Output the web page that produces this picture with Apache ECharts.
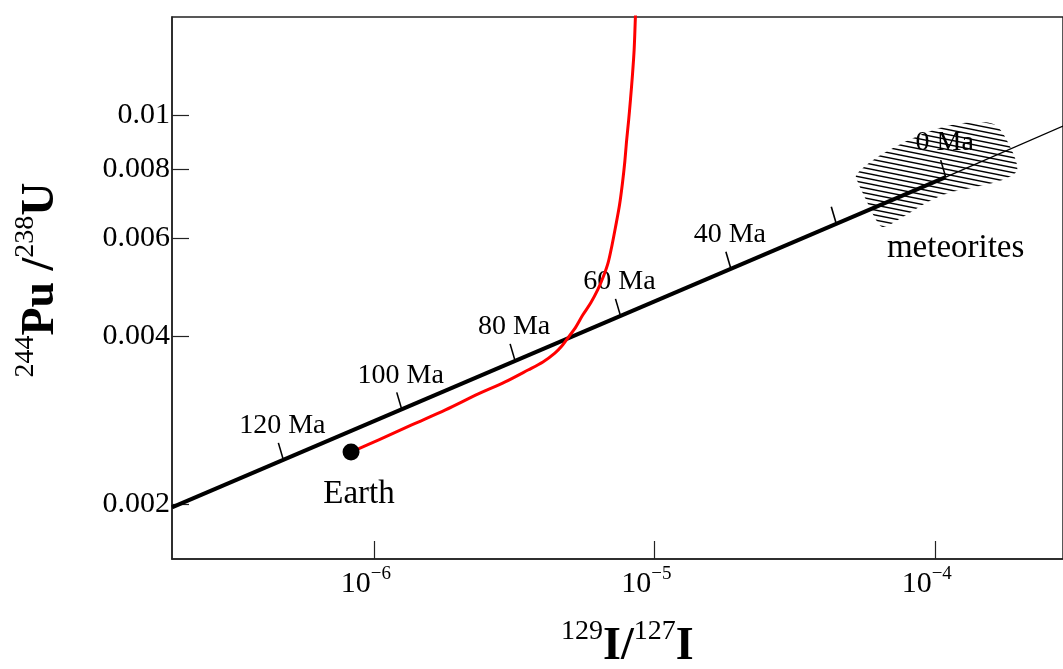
<!DOCTYPE html>
<html><head><meta charset="utf-8">
<script src="https://cdn.jsdelivr.net/npm/echarts@6/dist/echarts.min.js"></script>
<style>html,body{margin:0;padding:0;background:#fff;}#c{width:1063px;height:669px;}</style>
</head><body><div id="c"></div>
<script>
const FONT = '"Liberation Serif", "Times New Roman", serif';

// Black line: thick part up to 0 Ma, thin continuation beyond
const lineThickX = [1.905e-7, 1.094e-4];
const lineThickY = [1.973e-3, 7.735e-3];
const lineThinX = [1.094e-4, 2.866e-4];
const lineThinY = [7.735e-3, 9.554e-3];

// Red curve starting from Earth
const redX = [8.29e-7, 1.041e-6, 1.364e-6, 1.800e-6, 2.357e-6, 2.938e-6, 3.545e-6, 4.007e-6,
  4.419e-6, 4.680e-6, 4.915e-6, 5.246e-6, 5.556e-6, 5.929e-6, 6.280e-6, 6.593e-6, 6.840e-6,
  7.068e-6, 7.272e-6, 7.514e-6, 7.699e-6, 7.846e-6, 7.968e-6, 8.100e-6, 8.219e-6, 8.356e-6,
  8.472e-6, 8.562e-6, 8.606e-6];
const redY = [2.481e-3, 2.608e-3, 2.775e-3, 2.953e-3, 3.155e-3, 3.316e-3, 3.483e-3, 3.601e-3,
  3.736e-3, 3.847e-3, 3.976e-3, 4.160e-3, 4.373e-3, 4.595e-3, 4.850e-3, 5.138e-3, 5.423e-3,
  5.842e-3, 6.292e-3, 6.891e-3, 7.549e-3, 8.234e-3, 9.018e-3, 9.795e-3, 1.064e-2, 1.180e-2,
  1.308e-2, 1.500e-2, 1.576e-2];

// Earth point
const earthX = [8.29e-7];
const earthY = [2.481e-3];
const earthLabel = ['Earth'];

// Age ticks along the black line
const ageX = [4.756e-7, 1.257e-6, 3.188e-6, 7.575e-6, 1.875e-5, 4.455e-5, 1.094e-4];
const ageY = [2.402e-3, 2.960e-3, 3.617e-3, 4.357e-3, 5.294e-3, 6.377e-3, 7.735e-3];
const ageLabels = ['120 Ma', '100 Ma', '80 Ma', '60 Ma', '40 Ma', '', '0 Ma'];

// Meteorites hatched region outline
const blobX = [5.246e-5, 6.178e-5, 8.087e-5, 1.068e-4, 1.398e-4, 1.645e-4, 1.829e-4, 1.969e-4,
  1.742e-4, 1.398e-4, 1.121e-4, 9.292e-5, 7.700e-5, 6.540e-5, 6.178e-5, 5.691e-5, 5.333e-5];
const blobY = [7.802e-3, 8.372e-3, 9.018e-3, 9.515e-3, 9.714e-3, 9.594e-3, 8.907e-3, 7.965e-3,
  7.641e-3, 7.424e-3, 7.242e-3, 6.948e-3, 6.558e-3, 6.292e-3, 6.477e-3, 7.035e-3, 7.549e-3];
const meteoriteLabelX = [1.187e-4];
const meteoriteLabelY = [5.769e-3];
const meteoriteLabel = ['meteorites'];

// Axis ticks
const xTickValues = [1e-6, 1e-5, 1e-4];
const xTickExp = ['\u22126', '\u22125', '\u22124'];
const yTickValues = [0.002, 0.004, 0.006, 0.008, 0.01];
const yTickLabels = ['0.002', '0.004', '0.006', '0.008', '0.01'];

function nearestIdx(arr, v) {
  let best = 0, bd = Infinity;
  arr.forEach((t, i) => { const d = Math.abs(Math.log10(t) - Math.log10(v)); if (d < bd) { bd = d; best = i; } });
  return best;
}

function hatchCanvas() {
  const c = document.createElement('canvas');
  c.width = 25; c.height = 5;
  const g = c.getContext('2d');
  g.strokeStyle = '#000';
  g.lineWidth = 1.4;
  for (let k = -2; k <= 2; k++) {
    g.beginPath();
    g.moveTo(0, k * 5);
    g.lineTo(25, k * 5 + 5);
    g.stroke();
  }
  return c;
}
const hatch = hatchCanvas();

const chart = echarts.init(document.getElementById('c'), null, { renderer: 'canvas' });

const option = {
  backgroundColor: '#ffffff',
  animation: false,
  grid: { left: 172, top: 17, right: -5, bottom: 110, show: true, borderColor: '#222', borderWidth: 1.5, backgroundColor: 'transparent' },
  xAxis: {
    type: 'log', min: 1.906e-7, max: 2.866e-4,
    axisLine: { show: true, lineStyle: { color: '#222', width: 1.5 } },
    axisTick: { show: true, inside: true, length: 18, customValues: xTickValues, lineStyle: { color: '#222', width: 1.2 } },
    minorTick: { show: false },
    splitLine: { show: false },
    axisLabel: {
      customValues: xTickValues,
      margin: 6,
      padding: [0, 16, 0, 0],
      formatter: v => '{b|10}{s|' + xTickExp[nearestIdx(xTickValues, v)] + '}',
      rich: {
        b: { fontSize: 30, fontFamily: FONT, color: '#000', verticalAlign: 'bottom', lineHeight: 34 },
        s: { fontSize: 19, fontFamily: FONT, color: '#000', verticalAlign: 'top', lineHeight: 18 }
      }
    }
  },
  yAxis: {
    type: 'log', min: 1.594e-3, max: 1.500e-2,
    axisLine: { show: true, lineStyle: { color: '#222', width: 1.5 } },
    axisTick: { show: true, inside: true, length: 17, customValues: yTickValues, lineStyle: { color: '#222', width: 1.2 } },
    minorTick: { show: false },
    splitLine: { show: false },
    axisLabel: {
      customValues: yTickValues,
      margin: 2,
      fontSize: 30, fontFamily: FONT, color: '#000',
      formatter: v => yTickLabels[nearestIdx(yTickValues, v)]
    }
  },
  graphic: [
    {
      type: 'text', left: 561, top: 618, z: 100,
      style: {
        text: '{s|129}{b|I}{b|/}{s|127}{b|I}',
        rich: {
          s: { fontSize: 28, fontFamily: FONT, fill: '#000', verticalAlign: 'top', lineHeight: 24 },
          b: { fontSize: 46, fontFamily: FONT, fontWeight: 'bold', fill: '#000', verticalAlign: 'bottom', lineHeight: 52 }
        }
      }
    },
    {
      type: 'text', x: 38, y: 280, rotation: Math.PI / 2, z: 100,
      style: {
        text: '{s|244}{b|Pu /}{s|238}{b|U}',
        align: 'center', verticalAlign: 'middle',
        rich: {
          s: { fontSize: 28, fontFamily: FONT, fill: '#000', verticalAlign: 'top', lineHeight: 24 },
          b: { fontSize: 46, fontFamily: FONT, fontWeight: 'bold', fill: '#000', verticalAlign: 'bottom', lineHeight: 52 }
        }
      }
    }
  ],
  series: [
    {
      type: 'custom', name: 'meteorites', z: 1, clip: true,
      encode: { x: 0, y: 1 },
      data: blobX.map((x, i) => [x, blobY[i]]),
      renderItem: (params, api) => {
        if (params.dataIndex !== 0) return null;
        const pts = blobX.map((x, i) => api.coord([x, blobY[i]]));
        return {
          type: 'polygon',
          shape: { points: pts, smooth: 0.3 },
          style: { fill: { image: hatch, repeat: 'repeat' }, stroke: null }
        };
      }
    },
    {
      type: 'line', z: 2, showSymbol: false, silent: true,
      data: lineThickX.map((x, i) => [x, lineThickY[i]]),
      lineStyle: { color: '#000', width: 4 }
    },
    {
      type: 'line', z: 2, showSymbol: false, silent: true,
      data: lineThinX.map((x, i) => [x, lineThinY[i]]),
      lineStyle: { color: '#000', width: 1.2 }
    },
    {
      type: 'custom', z: 3,
      encode: { x: 0, y: 1 },
      data: ageX.map((x, i) => [x, ageY[i]]),
      renderItem: (params, api) => {
        const p = api.coord([api.value(0), api.value(1)]);
        const lbl = ageLabels[params.dataIndex];
        return {
          type: 'group',
          children: [
            { type: 'line', shape: { x1: p[0], y1: p[1], x2: p[0] - 5, y2: p[1] - 17 }, style: { stroke: '#000', lineWidth: 1.6 } },
            { type: 'text', x: p[0] - 1, y: p[1] - 34,
              style: { text: lbl, fontSize: 28, fontFamily: FONT, fill: '#000', align: 'center', verticalAlign: 'middle' } }
          ]
        };
      }
    },
    {
      type: 'line', z: 4, showSymbol: false, silent: true, smooth: 0.3,
      data: redX.map((x, i) => [x, redY[i]]),
      lineStyle: { color: '#ff0000', width: 3, join: 'round' }
    },
    {
      type: 'scatter', z: 5, symbol: 'circle', symbolSize: 17,
      itemStyle: { color: '#000', opacity: 1 },
      data: earthX.map((x, i) => [x, earthY[i]]),
      label: { show: true, position: 'inside', offset: [8, 42], formatter: p => earthLabel[p.dataIndex],
        fontSize: 33, fontFamily: FONT, color: '#000', opacity: 1 }
    },
    {
      type: 'scatter', z: 5, symbolSize: 0,
      itemStyle: { opacity: 1 },
      data: meteoriteLabelX.map((x, i) => [x, meteoriteLabelY[i]]),
      label: { show: true, position: 'inside', formatter: p => meteoriteLabel[p.dataIndex],
        fontSize: 33, fontFamily: FONT, color: '#000', opacity: 1 }
    }
  ]
};
chart.setOption(option);
</script>
</body></html>
